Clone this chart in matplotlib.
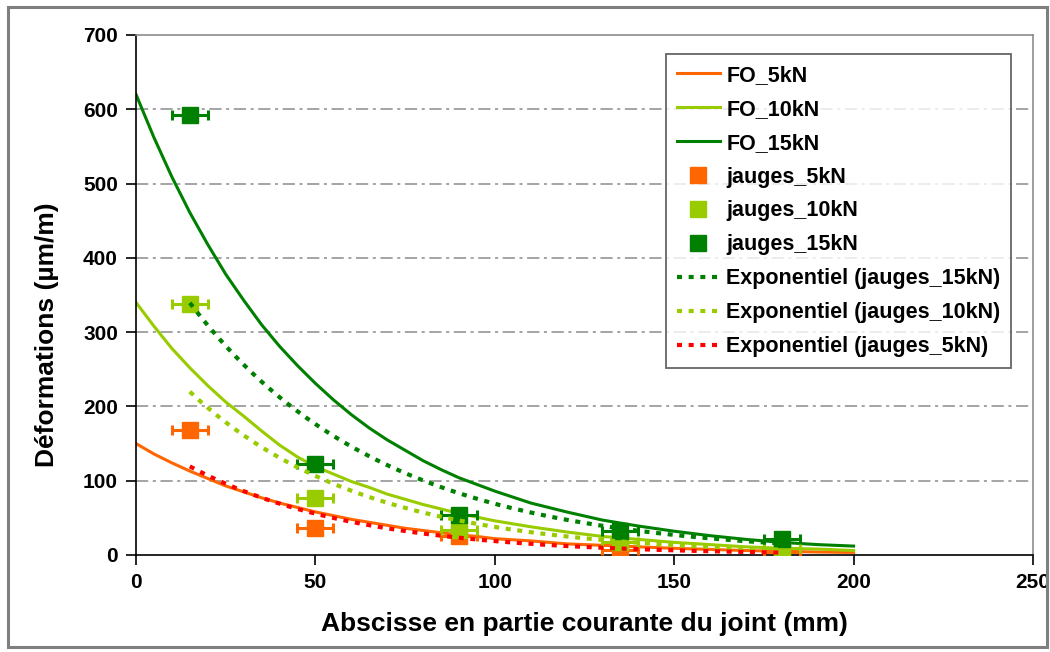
import numpy as np
import matplotlib
matplotlib.use("Agg")
import matplotlib.pyplot as plt
from matplotlib.patches import Rectangle

plt.rcParams['font.family'] = ['Liberation Sans', 'DejaVu Sans']

# ---- data ----
x_fo = [0, 5, 10, 15, 20, 25, 30, 35, 40, 45, 50, 55, 60, 65, 70, 75, 80, 85, 90, 95, 100,
        110, 120, 130, 140, 150, 160, 170, 180, 190, 200]
fo_5kN = [150, 136, 124, 113, 103, 93, 85, 77, 70, 64, 58, 53, 48, 44, 40, 36, 33, 30, 27, 25, 22,
          19, 15, 13, 11, 9, 7.5, 6, 5, 4, 3.5]
fo_10kN = [340, 308, 278, 252, 228, 206, 187, 167, 148, 132, 119, 109, 99, 91, 82, 75, 68, 62, 56, 51, 46,
           38, 31, 25, 21, 17, 14, 11, 9, 8, 6]
fo_15kN = [620, 562, 509, 461, 418, 378, 343, 310, 281, 255, 231, 209, 189, 171, 155, 141, 127, 115, 104, 95, 86,
           70, 58, 47, 39, 32, 26, 21, 17, 14, 12]

x_jauges = [15, 50, 90, 135, 180]
jauges_5kN = [168, 36, 26, 7, 4]
jauges_10kN = [338, 77, 34, 18, 9]
jauges_15kN = [592, 122, 54, 32, 22]
x_err = 5

c_orange = '#FF6600'
c_lgreen = '#99CC00'
c_dgreen = '#008000'
c_red = '#FF0000'

fig = plt.figure(figsize=(10.5, 6.52), dpi=100)
ax = fig.add_axes([136/1050, 1-555/652, (1033-136)/1050, (555-35)/652])

# outer chart border
fig.patches.append(Rectangle((8/1050, 5/652), 1039/1050, 640/652, transform=fig.transFigure,
                             fill=False, edgecolor='#7f7f7f', linewidth=2.2))

ax.set_xlim(0, 250)
ax.set_ylim(0, 700)
ax.set_xticks(range(0, 251, 50))
ax.set_yticks(range(0, 701, 100))
for y in range(100, 700, 100):
    ax.axhline(y, color='#8c8c8c', linewidth=1.1, linestyle=(0, (8, 3, 2, 3)), zorder=0)

# FO curves
h_fo5, = ax.plot(x_fo, fo_5kN, color=c_orange, lw=2.2, label='FO_5kN', zorder=2)
h_fo10, = ax.plot(x_fo, fo_10kN, color=c_lgreen, lw=2.2, label='FO_10kN', zorder=2)
h_fo15, = ax.plot(x_fo, fo_15kN, color=c_dgreen, lw=2.2, label='FO_15kN', zorder=2)

# gauges with horizontal error bars
hj = []
for yv, col, lab in [(jauges_5kN, c_orange, 'jauges_5kN'),
                     (jauges_10kN, c_lgreen, 'jauges_10kN'),
                     (jauges_15kN, c_dgreen, 'jauges_15kN')]:
    ax.errorbar(x_jauges, yv, xerr=x_err, fmt='none', ecolor=col, elinewidth=2.2,
                capsize=3.8, capthick=2.2, zorder=3)
    h, = ax.plot(x_jauges, yv, linestyle='none', marker='s', markersize=11.5,
                 color=col, label=lab, zorder=3)
    hj.append(h)

# exponential trendlines (Excel-style least squares fit on log values)
xt = np.linspace(min(x_jauges), max(x_jauges), 200)
ht = []
for yv, col, lab in [(jauges_15kN, c_dgreen, 'Exponentiel (jauges_15kN)'),
                     (jauges_10kN, c_lgreen, 'Exponentiel (jauges_10kN)'),
                     (jauges_5kN, c_red, 'Exponentiel (jauges_5kN)')]:
    b, a = np.polyfit(x_jauges, np.log(yv), 1)
    h, = ax.plot(xt, np.exp(a) * np.exp(b * xt), color=col, lw=3,
                 linestyle=(0, (1.2, 1.6)), label=lab, zorder=4)
    ht.append(h)

# spines
for s in ['top', 'right']:
    ax.spines[s].set_color('#8c8c8c')
    ax.spines[s].set_linewidth(1.2)
for s in ['left', 'bottom']:
    ax.spines[s].set_color('black')
    ax.spines[s].set_linewidth(1.2)

ax.tick_params(axis='both', direction='out', length=7, width=1.2, labelsize=15, pad=6)
for lbl in ax.get_xticklabels() + ax.get_yticklabels():
    lbl.set_fontweight('bold')

ax.set_xlabel('Abscisse en partie courante du joint (mm)', fontsize=19, fontweight='bold', labelpad=14)
ax.set_ylabel('Déformations (µm/m)', fontsize=19, fontweight='bold', labelpad=12)
ax.yaxis.set_label_coords(-0.086, 0.423)

handles = [h_fo5, h_fo10, h_fo15] + hj + ht
leg = ax.legend(handles=handles, loc='upper left', bbox_to_anchor=((666-136)/897, 1-(54-35)/520),
                prop={'weight': 'bold', 'size': 15.5}, frameon=True, fancybox=False,
                edgecolor='#404040', borderpad=0.5, labelspacing=0.6, handlelength=2.0,
                handletextpad=0.3, borderaxespad=0)
leg.get_frame().set_linewidth(1.3)

fig.savefig('out.png', dpi=100)
